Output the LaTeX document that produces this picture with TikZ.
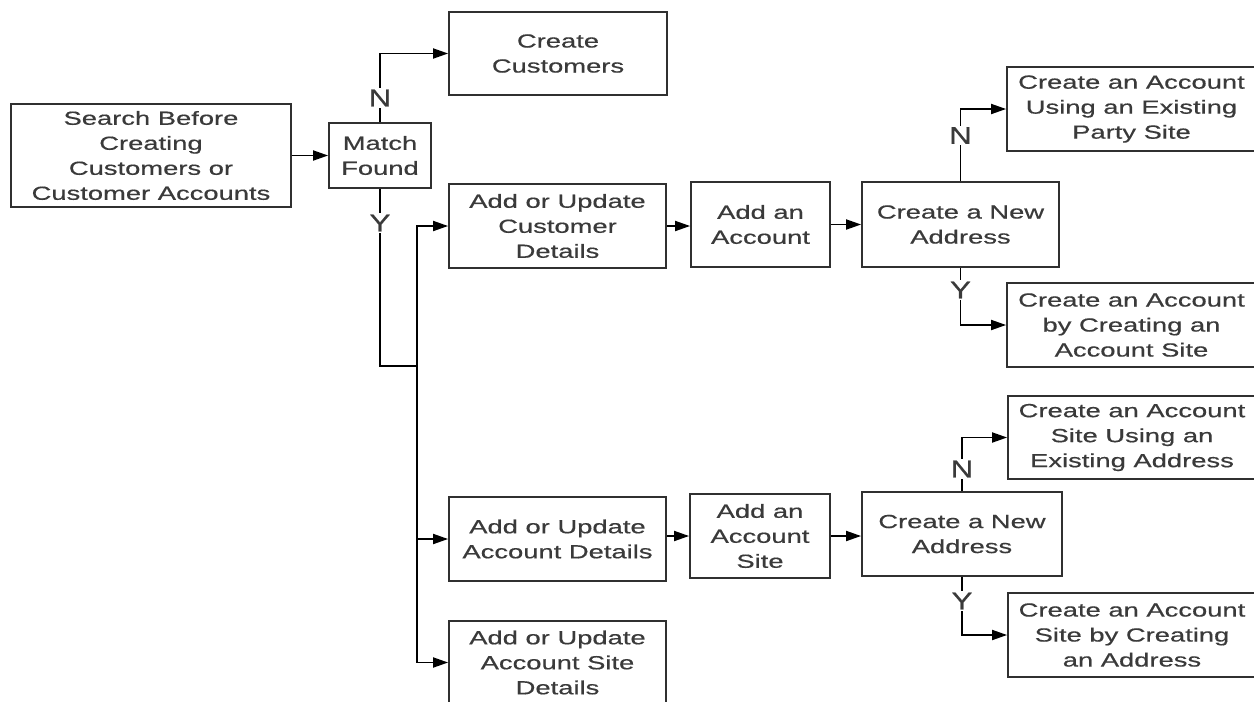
\documentclass[tikz,border=0pt]{standalone}
\usepackage{fontspec}
\setmainfont{Liberation Sans}[FakeStretch=1.44,FakeBold=0.5]
\newfontfamily\lblfont{Liberation Sans}[FakeStretch=1.3,FakeBold=0.5]
\usetikzlibrary{arrows.meta}
\definecolor{txt}{HTML}{3A3A3A}
\definecolor{bord}{HTML}{303030}
\begin{document}
\begin{tikzpicture}[x=1pt,y=-1pt,
  box/.style={draw=bord, line width=1.8pt, align=center, inner sep=0pt, text=txt,
    font=\fontsize{19}{25}\selectfont},
  conn/.style={line width=1.8pt, draw=black},
  arr/.style={conn, -{Triangle[length=15pt,width=10pt]}},
  lbl/.style={fill=white, inner sep=1.5pt, text=txt, font=\lblfont\fontsize{24}{24}\selectfont}]
\useasboundingbox (0,0) rectangle (1254,702);
\fill[white] (0,0) rectangle (1254,702);
% boxes
\node[box, minimum width=280pt, minimum height=103pt] (search) at (151,155.5) {Search Before\\Creating\\Customers or\\Customer Accounts};
\node[box, minimum width=102pt, minimum height=65pt] (match) at (380,155.5) {Match\\Found};
\node[box, minimum width=218pt, minimum height=83pt] (cc) at (558,53.5) {Create\\Customers};
\node[box, minimum width=217pt, minimum height=84pt] (acd) at (557.5,226) {Add or Update\\Customer\\Details};
\node[box, minimum width=139pt, minimum height=85pt] (aa) at (760.5,224.5) {Add an\\Account};
\node[box, minimum width=197pt, minimum height=85pt] (cna1) at (960.5,224.5) {Create a New\\Address};
\node[box, minimum width=249pt, minimum height=84pt] (e1) at (1131.5,109) {Create an Account\\Using an Existing\\Party Site};
\node[box, minimum width=249pt, minimum height=84pt] (e2) at (1131.5,325) {Create an Account\\by Creating an\\Account Site};
\node[box, minimum width=217pt, minimum height=84pt] (aad) at (557.5,539) {Add or Update\\Account Details};
\node[box, minimum width=140pt, minimum height=84pt] (aas) at (760,536) {Add an\\Account\\Site};
\node[box, minimum width=200pt, minimum height=84pt] (cna2) at (962,534) {Create a New\\Address};
\node[box, minimum width=248pt, minimum height=83pt] (e3) at (1132,437.5) {Create an Account\\Site Using an\\Existing Address};
\node[box, minimum width=248pt, minimum height=84pt] (e4) at (1132,635) {Create an Account\\Site by Creating\\an Address};
\node[box, minimum width=217pt, minimum height=83pt] (aasd) at (557.5,662.5) {Add or Update\\Account Site\\Details};
% connectors
\coordinate (j) at (417,366);
\draw[arr] (search) -- (match);
\draw[arr] (match.north) |- (cc.west);
\draw[conn] (match.south) |- (j);
\draw[conn] (j) -- (j |- acd.west);
\draw[arr] (j) |- (acd.west);
\draw[arr] (j) |- (aad.west);
\draw[arr] (j) |- (aasd.west);
\draw[arr] (acd.east) -- (acd.east -| aa.west);
\draw[arr] (aa.east) -- (cna1.west);
\draw[arr] (aas.west -| aad.east) -- (aas.west);
\draw[arr] (aas.east) -- (aas.east -| cna2.west);
\draw[arr] (cna1.north) |- (e1.west);
\draw[arr] (cna1.south) |- (e2.west);
\draw[arr] (cna2.north) |- (e3.west);
\draw[arr] (cna2.south) |- (e4.west);
% labels
\node[lbl] (n0) at (380,98) {N};
\node[lbl] (y0) at (380,223) {Y};
\node[lbl] (n1) at (960.5,135.5) {N};
\node[lbl] (y1) at (960.5,290) {Y};
\node[lbl] (n2) at (962,469) {N};
\node[lbl] (y2) at (962,601) {Y};
\end{tikzpicture}
\end{document}
